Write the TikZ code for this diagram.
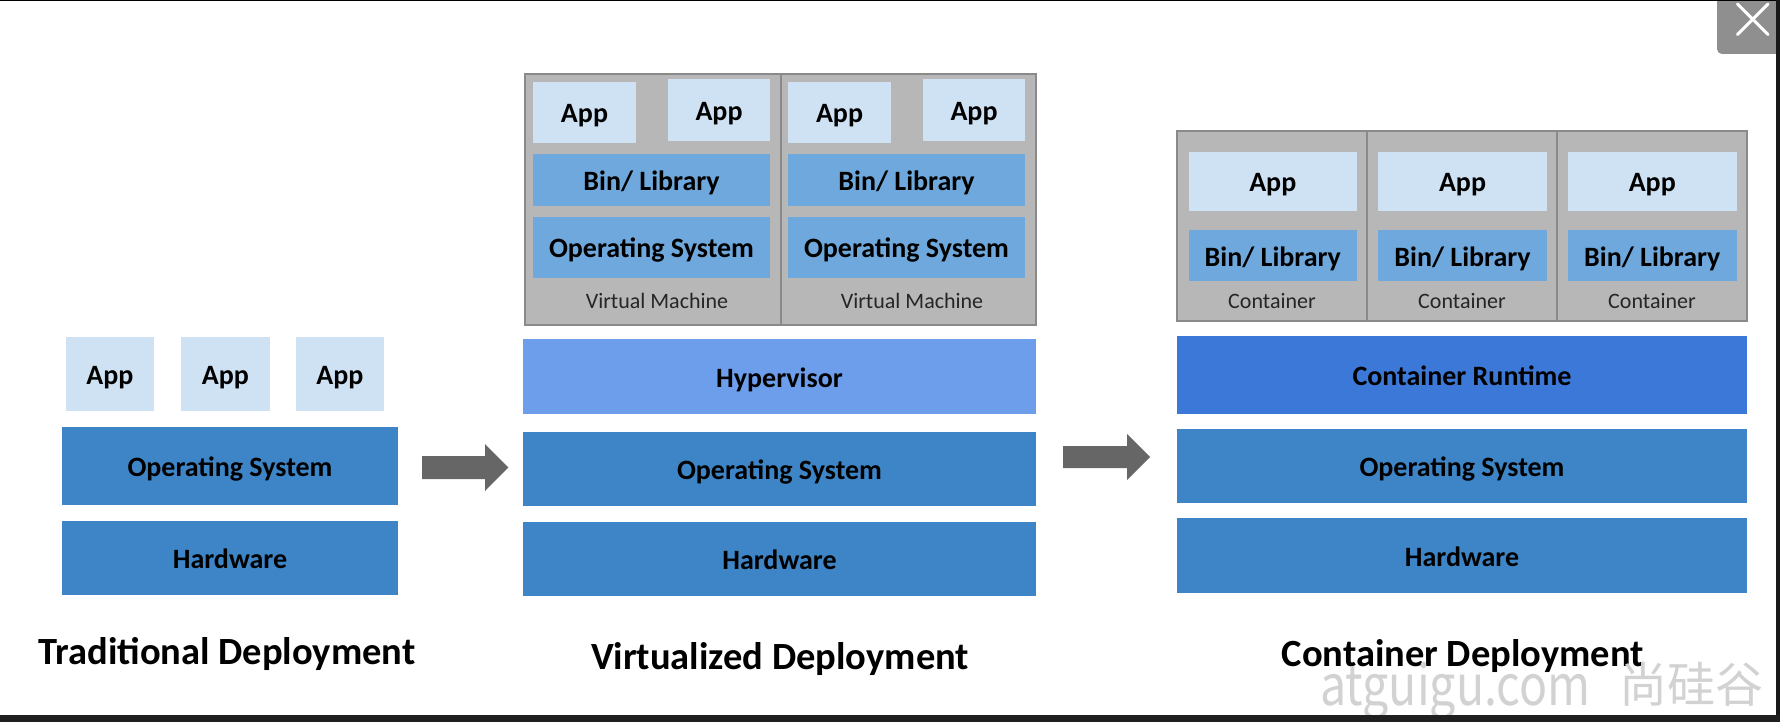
\documentclass[tikz,border=0pt]{standalone}
\usepackage{fontspec}
\setmainfont{Carlito}
\newfontfamily\wmfont{Noto Sans CJK SC}
\definecolor{appc}{HTML}{CFE2F3}
\definecolor{libc}{HTML}{6FA8DC}
\definecolor{osc}{HTML}{3D85C6}
\definecolor{hypc}{HTML}{6D9EEB}
\definecolor{rtc}{HTML}{3C78D8}
\definecolor{vmc}{HTML}{B7B7B7}
\definecolor{vmline}{HTML}{8A8A8A}
\definecolor{arrc}{HTML}{666666}
\definecolor{closec}{HTML}{8F8F8F}
\definecolor{wmc}{HTML}{D2D2D2}
\newcommand\bx[7]{\node[#6, minimum width={(#4)-(#2)}, minimum height={(#5)-(#3)}] (#1) at ({((#2)+(#4))/2},{((#3)+(#5))/2}) {#7};}
\begin{document}
\begin{tikzpicture}[x=1pt,y=-1pt,
  layer/.style={inner sep=0, outer sep=0, font=\fontsize{28}{30}\selectfont\bfseries, text=black, text height=24pt, text depth=3pt},
  app/.style={layer, fill=appc},
  lib/.style={layer, fill=libc},
  osl/.style={layer, fill=osc},
  hyp/.style={layer, fill=hypc},
  rtl/.style={layer, fill=rtc},
  frame/.style={fill=vmc, draw=vmline, line width=1.5pt, inner sep=0, outer sep=0},
  sublabel/.style={font=\fontsize{22}{24}\selectfont, text=black!85, inner sep=0},
  title/.style={font=\fontsize{38.5}{40}\selectfont\bfseries, anchor=base, inner sep=0},
  wm/.style={text=wmc, anchor=base west, inner sep=0}]
\fill[white] (0,0) rectangle (1780,722);
\path[use as bounding box] (0,0) rectangle (1780,722);

% ---------- Traditional ----------
\bx{tapp1}{66}{337}{154}{411}{app}{App}
\bx{tapp2}{181}{337}{270}{411}{app}{App}
\bx{tapp3}{296}{337}{384}{411}{app}{App}
\bx{tos}{62}{427}{398}{505}{osl}{Operating System}
\bx{thw}{62}{521}{398}{595}{osl}{Hardware}
\node[title] (ttitle) at (227,664) {Traditional Deployment};

% arrow 1
\fill[arrc] (422,456) -- (485,456) -- (485,444) -- (508.3,467.5) -- (485,491) -- (485,479) -- (422,479) -- cycle;

% ---------- Virtualized ----------
\bx{vm1}{525}{74}{781}{325}{frame}{}
\bx{vm2}{781}{74}{1036}{325}{frame}{}
\bx{v1app1}{533}{82}{636}{143}{app}{App}
\bx{v1app2}{668}{79.5}{770}{141.5}{app}{App}
\bx{v1bin}{533}{154}{770}{206}{lib}{Bin/ Library}
\bx{v1os}{533}{217}{770}{278}{lib}{Operating System}
\node[sublabel] (v1lab) at (657,301) {Virtual Machine};
\bx{v2app1}{788}{82}{891}{143}{app}{App}
\bx{v2app2}{923}{79.5}{1025}{141.5}{app}{App}
\bx{v2bin}{788}{154}{1025}{206}{lib}{Bin/ Library}
\bx{v2os}{788}{217}{1025}{278}{lib}{Operating System}
\node[sublabel] (v2lab) at (912,301) {Virtual Machine};
\bx{hyp}{523}{339}{1036}{414}{hyp}{Hypervisor}
\bx{vos}{523}{432}{1036}{506}{osl}{Operating System}
\bx{vhw}{523}{522}{1036}{596}{osl}{Hardware}
\node[title] (vtitle) at (780,669) {Virtualized Deployment};

% arrow 2
\fill[arrc] (1063,446) -- (1127,446) -- (1127,434) -- (1150,457) -- (1127,480) -- (1127,468) -- (1063,468) -- cycle;

% ---------- Container ----------
\bx{c1}{1177}{131}{1367}{321}{frame}{}
\bx{c2}{1367}{131}{1557}{321}{frame}{}
\bx{c3}{1557}{131}{1747}{321}{frame}{}
\bx{capp1}{1188.5}{152}{1357}{211}{app}{App}
\bx{capp2}{1378}{152}{1547}{211}{app}{App}
\bx{capp3}{1568}{152}{1736.5}{211}{app}{App}
\bx{cbin1}{1188.5}{230}{1357}{281}{lib}{Bin/ Library}
\bx{cbin2}{1378}{230}{1547}{281}{lib}{Bin/ Library}
\bx{cbin3}{1568}{230}{1736.5}{281}{lib}{Bin/ Library}
\node[sublabel] (c1lab) at (1272,301) {Container};
\node[sublabel] (c2lab) at (1462,301) {Container};
\node[sublabel] (c3lab) at (1652,301) {Container};
\bx{crt}{1177}{336}{1747}{414}{rtl}{Container Runtime}
\bx{cos}{1177}{429}{1747}{503}{osl}{Operating System}
\bx{chw}{1177}{518}{1747}{593}{osl}{Hardware}
\node[title] (ctitle) at (1462.7,666) {Container Deployment};

% watermark
\node[wm, font=\wmfont\fontsize{56}{60}\selectfont] (wm1) at (1320,705) {\scalebox{0.83}[1]{atguigu.com}};
\node[wm, font=\wmfont\fontsize{48}{50}\selectfont] (wm2) at (1619,702) {尚硅谷};

% close button
\fill[closec, rounded corners=5] (1717,-10) rectangle (1790,54);
\draw[white, line width=3, line cap=round] (1737.5,4) -- (1768,34.5) (1768,4) -- (1737.5,34.5);

% screen borders
\fill[black] (0,0) rectangle (1780,1.5);
\fill[black!90] (1776,0) rectangle (1780,722);
\fill[black!88] (0,715) rectangle (1780,722);
\end{tikzpicture}
\end{document}
